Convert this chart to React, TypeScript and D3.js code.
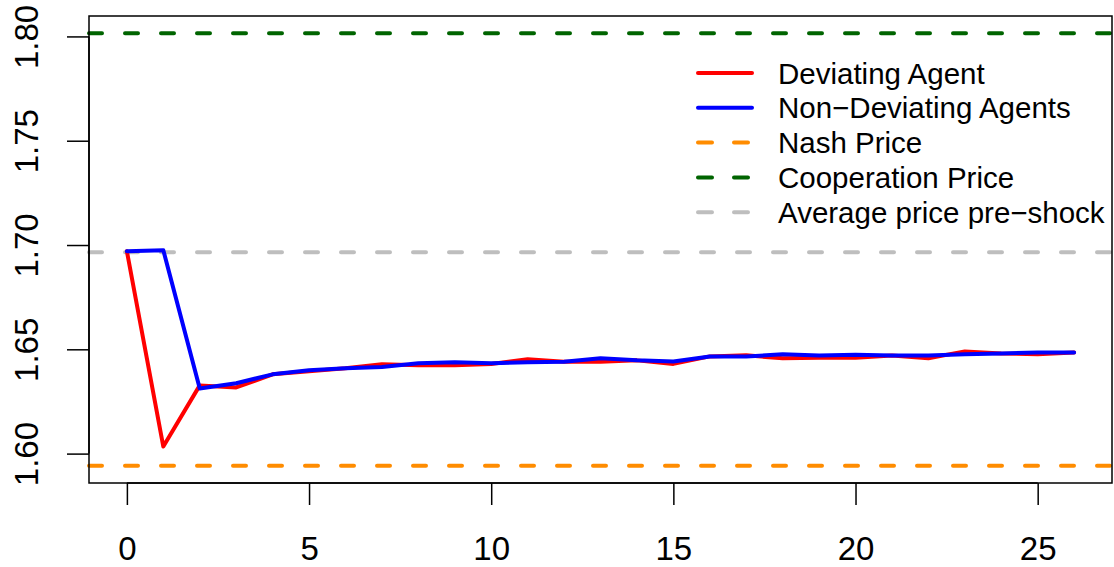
import * as d3 from 'd3';
import { useEffect, useRef } from 'react';

// rounds after the shock
const periods = d3.range(0, 27);

const deviating = [1.697, 1.6034, 1.6327, 1.6317, 1.638, 1.6395, 1.6409, 1.6428, 1.6423, 1.6423,
    1.643, 1.6452, 1.644, 1.644, 1.6447, 1.643, 1.6466, 1.6471, 1.6457, 1.646,
    1.646, 1.647, 1.6457, 1.649, 1.648, 1.6476, 1.6485];

const nonDeviating = [1.697, 1.6975, 1.6312, 1.6337, 1.638, 1.640, 1.6409, 1.6415, 1.6433, 1.6438,
    1.6433, 1.6438, 1.644, 1.6457, 1.6447, 1.6442, 1.6466, 1.6466, 1.6476, 1.647,
    1.6474, 1.647, 1.647, 1.6476, 1.648, 1.6485, 1.6485];

const nashPrice = 1.5942;
const coopPrice = 1.8015;
const preShockPrice = 1.6965;

const xTicks = [0, 5, 10, 15, 20, 25];
const yTicks = [1.60, 1.65, 1.70, 1.75, 1.80];

const legendItems = [
    { label: 'Deviating Agent', color: '#ff0000', dashed: false },
    { label: 'Non\u2212Deviating Agents', color: '#0000ff', dashed: false },
    { label: 'Nash Price', color: '#ff8c00', dashed: true },
    { label: 'Cooperation Price', color: '#006400', dashed: true },
    { label: 'Average price pre\u2212shock', color: '#bebebe', dashed: true },
];

const App = () => {
    const d3Container = useRef<SVGSVGElement | null>(null);

    useEffect(() => {
        if (!d3Container.current) return;
        const svg = d3.select(d3Container.current);
        svg.selectAll('*').remove();

        const left = 89, right = 1112, top = 16, bottom = 483;
        const font = 'Liberation Sans, Arial, Helvetica, sans-serif';
        const lw = 4;
        const dash = '13 23';

        // R style 4% padding on both axes
        const xExt = [0, 26];
        const xPad = (xExt[1] - xExt[0]) * 0.04;
        const allY = [...deviating, ...nonDeviating, nashPrice, coopPrice, preShockPrice];
        const yMin = d3.min(allY)!, yMax = d3.max(allY)!;
        const yPad = (yMax - yMin) * 0.04;

        const xScale = d3.scaleLinear()
            .domain([xExt[0] - xPad, xExt[1] + xPad])
            .range([left, right]);

        const yScale = d3.scaleLinear()
            .domain([yMin - yPad, yMax + yPad])
            .range([bottom, top]);

        // reference lines
        const refs = [
            { v: preShockPrice, color: '#bebebe' },
            { v: nashPrice, color: '#ff8c00' },
            { v: coopPrice, color: '#006400' },
        ];
        svg.selectAll('line.ref')
            .data(refs).enter()
            .append('line')
            .attr('class', 'ref')
            .attr('x1', left)
            .attr('x2', right)
            .attr('y1', d => yScale(d.v))
            .attr('y2', d => yScale(d.v))
            .attr('stroke', d => d.color)
            .attr('stroke-width', lw)
            .attr('stroke-dasharray', dash)
            .attr('stroke-linecap', 'round');

        const line = d3.line<number>()
            .x((d, i) => xScale(periods[i]))
            .y(d => yScale(d));

        svg.append('path')
            .datum(deviating)
            .attr('d', line)
            .attr('fill', 'none')
            .attr('stroke', '#ff0000')
            .attr('stroke-width', lw)
            .attr('stroke-linejoin', 'round')
            .attr('stroke-linecap', 'round');

        svg.append('path')
            .datum(nonDeviating)
            .attr('d', line)
            .attr('fill', 'none')
            .attr('stroke', '#0000ff')
            .attr('stroke-width', lw)
            .attr('stroke-linejoin', 'round')
            .attr('stroke-linecap', 'round');

        // box
        svg.append('rect')
            .attr('x', left)
            .attr('y', top)
            .attr('width', right - left)
            .attr('height', bottom - top)
            .attr('fill', 'none')
            .attr('stroke', '#000')
            .attr('stroke-width', 1.5);

        // axes
        const xAxis = svg.append('g')
            .attr('transform', `translate(0,${bottom})`)
            .call(d3.axisBottom(xScale).tickValues(xTicks).tickSize(22).tickPadding(32).tickFormat(d3.format('d')));
        const yAxis = svg.append('g')
            .attr('transform', `translate(${left},0)`)
            .call(d3.axisLeft(yScale).tickValues(yTicks).tickSize(22).tickFormat(d3.format('.2f')));

        for (const ax of [xAxis, yAxis]) {
            ax.select('.domain').remove();
            ax.selectAll('line').attr('stroke', '#000').attr('stroke-width', 1.5);
            ax.selectAll('text')
                .attr('fill', '#000')
                .style('font-family', font)
                .style('font-size', '33px');
        }
        xAxis.append('line')
            .attr('x1', xScale(xTicks[0]))
            .attr('x2', xScale(xTicks[xTicks.length - 1]))
            .attr('stroke', '#000').attr('stroke-width', 1.5);
        yAxis.append('line')
            .attr('y1', yScale(yTicks[0]))
            .attr('y2', yScale(yTicks[yTicks.length - 1]))
            .attr('stroke', '#000').attr('stroke-width', 1.5);

        xAxis.selectAll('text').attr('dy', '0.71em');
        // y labels run parallel to the axis, as in base R
        yAxis.selectAll('text')
            .attr('x', null)
            .attr('dy', null)
            .attr('text-anchor', 'middle')
            .attr('transform', 'translate(-51,0) rotate(-90)');

        // legend
        const lg = svg.append('g').attr('transform', 'translate(698,73)');
        const rows = lg.selectAll('g')
            .data(legendItems).enter()
            .append('g')
            .attr('transform', (d, i) => `translate(0,${i * 34.8})`);
        rows.append('line')
            .attr('x1', 0)
            .attr('x2', 54)
            .attr('stroke', d => d.color)
            .attr('stroke-width', lw)
            .attr('stroke-linecap', 'round')
            .attr('stroke-dasharray', d => d.dashed ? '14 22' : null);
        rows.append('text')
            .attr('x', 80)
            .attr('dy', '0.36em')
            .attr('fill', '#000')
            .style('font-family', font)
            .style('font-size', '29.5px')
            .text(d => d.label);
    }, []);

    return (
        <svg
            ref={d3Container}
            width={1114}
            height={567}
            style={{ position: 'absolute', left: 0, top: 0, background: '#fff' }}
        />
    );
};

export default App;
